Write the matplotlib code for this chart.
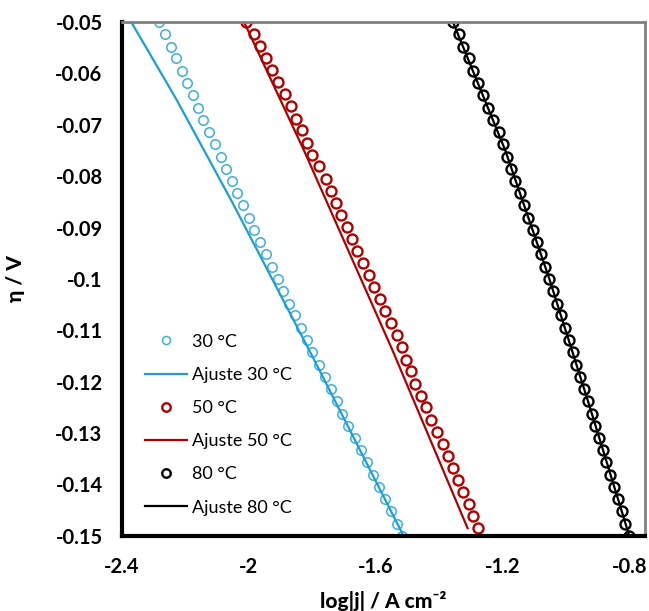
import matplotlib
matplotlib.use("Agg")
import matplotlib.pyplot as plt
from matplotlib.ticker import FuncFormatter, MultipleLocator

plt.rcParams['font.family'] = ['Lato', 'DejaVu Sans']
plt.rcParams['axes.unicode_minus'] = False

# sobrepotencial (V) dos pontos experimentais
eta = [-0.0500, -0.0524, -0.0548, -0.0571, -0.0595, -0.0619, -0.0643, -0.0667,
       -0.0690, -0.0714, -0.0738, -0.0762, -0.0786, -0.0810, -0.0833, -0.0857,
       -0.0881, -0.0905, -0.0929, -0.0952, -0.0976, -0.1000, -0.1024, -0.1048,
       -0.1071, -0.1095, -0.1119, -0.1143, -0.1167, -0.1190, -0.1214, -0.1238,
       -0.1262, -0.1286, -0.1310, -0.1333, -0.1357, -0.1381, -0.1405, -0.1429,
       -0.1452, -0.1476, -0.1500]
eta_50 = [-0.0500, -0.0523, -0.0547, -0.0570, -0.0594, -0.0617, -0.0641, -0.0664,
          -0.0688, -0.0711, -0.0735, -0.0758, -0.0781, -0.0805, -0.0828, -0.0852,
          -0.0875, -0.0899, -0.0922, -0.0946, -0.0969, -0.0992, -0.1016, -0.1039,
          -0.1063, -0.1086, -0.1110, -0.1133, -0.1157, -0.1180, -0.1204, -0.1227,
          -0.1250, -0.1274, -0.1297, -0.1321, -0.1344, -0.1368, -0.1391, -0.1415,
          -0.1438, -0.1462, -0.1485]

# log|j| experimental
logj_30 = [-2.283, -2.265, -2.246, -2.231, -2.212, -2.194, -2.176, -2.160,
           -2.144, -2.126, -2.107, -2.089, -2.073, -2.052, -2.036, -2.018,
           -1.998, -1.983, -1.965, -1.947, -1.928, -1.908, -1.892, -1.873,
           -1.855, -1.836, -1.816, -1.800, -1.779, -1.760, -1.741, -1.723,
           -1.705, -1.686, -1.665, -1.647, -1.628, -1.607, -1.589, -1.570,
           -1.552, -1.534, -1.516]
logj_50 = [-2.008, -1.984, -1.966, -1.947, -1.926, -1.907, -1.887, -1.868,
           -1.852, -1.833, -1.815, -1.800, -1.778, -1.757, -1.741, -1.724,
           -1.708, -1.689, -1.673, -1.658, -1.639, -1.621, -1.605, -1.586,
           -1.570, -1.552, -1.534, -1.518, -1.503, -1.487, -1.475, -1.457,
           -1.442, -1.424, -1.405, -1.389, -1.371, -1.356, -1.340, -1.323,
           -1.307, -1.292, -1.277]
logj_80 = [-1.355, -1.338, -1.323, -1.307, -1.293, -1.276, -1.262, -1.246,
           -1.230, -1.211, -1.198, -1.185, -1.172, -1.159, -1.146, -1.132,
           -1.119, -1.105, -1.092, -1.078, -1.065, -1.053, -1.040, -1.028,
           -1.015, -1.003, -0.991, -0.979, -0.967, -0.955, -0.943, -0.931,
           -0.919, -0.907, -0.895, -0.883, -0.872, -0.860, -0.848, -0.836,
           -0.824, -0.812, -0.800]

# curvas de ajuste
eta_fit_30 = [-0.05, -0.065, -0.085, -0.115, -0.15]
fit_30 = [-2.371, -2.229, -2.053, -1.800, -1.512]
eta_fit_50 = [-0.05, -0.075, -0.114, -0.1485]
fit_50 = [-2.015, -1.826, -1.546, -1.310]
eta_fit_80 = [-0.05, -0.075, -0.10, -0.125, -0.15]
fit_80 = [-1.356, -1.191, -1.052, -0.924, -0.800]

c30 = '#1a9fdc'
c50 = '#b00000'
c80 = 'black'

fig = plt.figure(figsize=(6.49, 6.11), dpi=100)
ax = fig.add_axes([0.188, 0.123, 0.806, 0.841])

ax.plot(logj_30, eta, 'o', mfc='none', mec='#3aaee2', ms=6.8, mew=1.1, label='30 °C')
ax.plot(fit_30, eta_fit_30, '-', color=c30, lw=1.6, label='Ajuste 30 °C')
ax.plot(logj_50, eta_50, 'o', mfc='none', mec=c50, ms=7.2, mew=1.7, label='50 °C')
ax.plot(fit_50, eta_fit_50, '-', color=c50, lw=1.6, label='Ajuste 50 °C')
ax.plot(logj_80, eta, 'o', mfc='none', mec=c80, ms=7.2, mew=1.7, label='80 °C')
ax.plot(fit_80, eta_fit_80, '-', color=c80, lw=1.6, label='Ajuste 80 °C')

ax.set_xlim(-2.4, -0.75)
ax.set_ylim(-0.15, -0.05)
ax.xaxis.set_major_locator(MultipleLocator(0.4))
ax.yaxis.set_major_locator(MultipleLocator(0.01))
ax.xaxis.set_major_formatter(FuncFormatter(lambda v, p: ('%.1f' % v).rstrip('0').rstrip('.')))
ax.yaxis.set_major_formatter(FuncFormatter(lambda v, p: ('%.2f' % v).rstrip('0').rstrip('.')))
ax.tick_params(length=0, labelsize=14.5)
ax.tick_params(axis='x', pad=15)
ax.tick_params(axis='y', pad=14)
for lab in ax.get_xticklabels() + ax.get_yticklabels():
    lab.set_fontweight('bold')

ax.spines['left'].set_linewidth(3)
ax.spines['bottom'].set_linewidth(3)
ax.spines['top'].set_color('#808080')
ax.spines['right'].set_color('#808080')
ax.spines['top'].set_linewidth(2)
ax.spines['right'].set_linewidth(2)

ax.set_xlabel('log|j| / A cm⁻²', fontsize=15, fontweight='black', labelpad=10)
ax.set_ylabel('η / V', fontsize=15, fontweight='black', labelpad=22)

ax.legend(loc='lower left', bbox_to_anchor=(0.02, 0.015), frameon=False, fontsize=13,
          labelspacing=0.95, handlelength=2.3, handletextpad=0.3, borderaxespad=0.3,
          markerscale=0.85)

fig.savefig('out.png', dpi=100)
